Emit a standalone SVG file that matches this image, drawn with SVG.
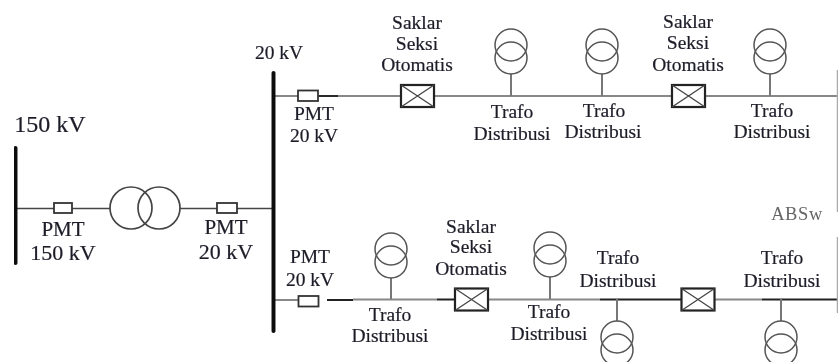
<svg xmlns="http://www.w3.org/2000/svg" width="838" height="362" viewBox="0 0 838 362">
<style>
text{font-family:"Liberation Serif","Times New Roman",serif;font-size:19.5px;fill:#1c1c28;stroke:#1c1c28;stroke-width:.2px;text-anchor:middle}
.big{font-size:24px}
.m{font-size:21px}
.l{font-size:22px}
.abs{font-size:18.500px;fill:#666;stroke:none;letter-spacing:.6px}
.bus{stroke:#111;stroke-width:4;stroke-linecap:round;fill:none}
.line{stroke:#444;stroke-width:1.6;fill:none}
.lineg{stroke:#888;stroke-width:2;fill:none}
.lined{stroke:#222;stroke-width:1.8;fill:none}
.stem{stroke:#777;stroke-width:2;fill:none}
.edge{stroke:#aaa;stroke-width:1.500;fill:none}
.pmt{fill:#fff;stroke:#333;stroke-width:1.800}
.sw{fill:#fff;stroke:#222;stroke-width:2.200}
.x{stroke:#444;stroke-width:1.300;fill:none}
.coil{fill:none;stroke:#555;stroke-width:1.500}
.main{fill:none;stroke:#444;stroke-width:1.700}
</style>
<defs>
<filter id="soft" x="0" y="0" width="100%" height="100%"><feGaussianBlur stdDeviation="0.35"/></filter>
<g id="tr"><circle class="coil" cx="0" cy="-13" r="16"/><circle class="coil" cx="0" cy="0" r="16"/></g>
<g id="sx"><rect class="sw" x="-16.500" y="-11" width="33" height="22"/><path class="x" d="M-16.500-11L16.500 11M-16.500 11L16.500-11"/></g>
</defs>
<g filter="url(#soft)">
<g id="connectors">
<path class="line" d="M15 208.500H110M180 208.500H273"/>
<path class="lineg" d="M274 96H838"/>
<path class="lined" d="M319 96H338"/>
<path class="lineg" d="M274 300H298M353 299.500H437M488 299.500H600M715 299.500H762"/>
<path class="lined" d="M327 300H353M437 299.500H455M600 299.500H681M762 299.500H838"/>
<path class="stem" d="M511 74V96M602 74V96M770 74V96M391 278V299M550 277V299M617 299V321M781 299V321"/>
<path class="edge" d="M837.500 70V212M837.500 237V313"/>
</g>
<g id="bus-150"><path class="bus" d="M15.500 148V263"/><text class="big" x="50" y="132">150 kV</text></g>
<g id="bus-20"><path class="bus" d="M273.500 73V331"/><text x="279" y="59">20 kV</text></g>
<g id="pmt-150"><rect class="pmt" x="54" y="203" width="18" height="10"/><text class="m" x="63" y="236">PMT</text><text class="l" x="63" y="260">150 kV</text></g>
<g id="main-transformer"><circle class="main" cx="131" cy="208" r="21"/><circle class="main" cx="159" cy="208" r="21"/></g>
<g id="pmt-20-a"><rect class="pmt" x="217" y="203" width="20" height="10"/><text class="m" x="226" y="234">PMT</text><text class="l" x="226" y="259">20 kV</text></g>
<g id="pmt-20-b"><rect class="pmt" x="298" y="90.500" width="20" height="10.500"/><text x="314" y="120">PMT</text><text x="314" y="142">20 kV</text></g>
<g id="sso-1"><use href="#sx" x="417.500" y="96"/><text x="417" y="29">Saklar</text><text x="417" y="50">Seksi</text><text x="417" y="71">Otomatis</text></g>
<g id="trafo-1"><use href="#tr" x="511" y="58"/><text x="512" y="118">Trafo</text><text x="512" y="140">Distribusi</text></g>
<g id="trafo-2"><use href="#tr" x="602" y="58"/><text x="604" y="117">Trafo</text><text x="603" y="138">Distribusi</text></g>
<g id="sso-2"><use href="#sx" x="688.500" y="96"/><text x="688" y="28">Saklar</text><text x="688" y="49">Seksi</text><text x="688" y="71">Otomatis</text></g>
<g id="trafo-3"><use href="#tr" x="770" y="58"/><text x="772" y="117">Trafo</text><text x="772" y="138">Distribusi</text></g>
<g id="absw"><text class="abs" x="797" y="220">ABSw</text></g>
<g id="pmt-20-c"><rect class="pmt" x="298.500" y="296" width="20" height="10.500"/><text x="310" y="263">PMT</text><text x="310" y="286">20 kV</text></g>
<g id="trafo-4"><use href="#tr" x="391" y="262"/><text x="390" y="321">Trafo</text><text x="390" y="342">Distribusi</text></g>
<g id="sso-3"><use href="#sx" x="471.500" y="299.500"/><text x="471" y="233">Saklar</text><text x="471" y="253">Seksi</text><text x="471" y="275">Otomatis</text></g>
<g id="trafo-5"><use href="#tr" x="550" y="261"/><text x="549" y="318">Trafo</text><text x="549" y="340">Distribusi</text></g>
<g id="trafo-6"><use href="#tr" x="617" y="350"/><text x="618" y="264">Trafo</text><text x="618" y="287">Distribusi</text></g>
<g id="sso-4"><use href="#sx" x="698" y="299.500"/></g>
<g id="trafo-7"><use href="#tr" x="781" y="350"/><text x="782" y="264">Trafo</text><text x="782" y="287">Distribusi</text></g>
</g>
</svg>
